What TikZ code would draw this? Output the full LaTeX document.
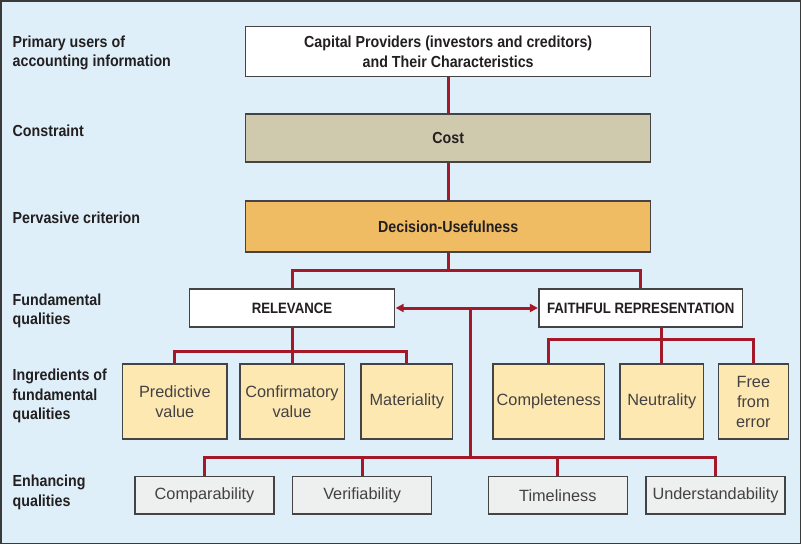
\documentclass[tikz,border=0pt]{standalone}
\usepackage{fontspec}
\setmainfont{Liberation Sans}
\newfontfamily\condf[FakeStretch=0.89]{Liberation Sans}
\newfontfamily\condu[FakeStretch=0.88]{Liberation Sans}
\usetikzlibrary{arrows.meta}
\definecolor{bgblue}{HTML}{DEEFF9}
\definecolor{framegray}{HTML}{3A3A3A}
\definecolor{boxgray}{HTML}{444444}
\definecolor{costc}{HTML}{CFC9AE}
\definecolor{decc}{HTML}{F0BC63}
\definecolor{ingc}{HTML}{FDE8B2}
\definecolor{enhc}{HTML}{EEEFEF}
\definecolor{linered}{HTML}{A3192A}
\definecolor{txt}{HTML}{231F20}
\tikzset{
  x=1pt, y=-1pt,
  boxnode/.style={draw=boxgray, line width=1.3pt, inner sep=0pt, align=center, text=txt},
  headbox/.style={boxnode, font=\condf\bfseries\fontsize{16}{20}\selectfont},
  capsbox/.style={boxnode, font=\condu\bfseries\fontsize{15}{19}\selectfont},
  plainbox/.style={boxnode, font=\fontsize{16.3}{20}\selectfont, text=txt!85},
  sidelabel/.style={anchor=west, align=left, inner sep=0pt, text=txt, font=\condf\bfseries\fontsize{16}{19.5}\selectfont},
  conn/.style={draw=linered, line width=3pt},
  arr/.style={conn, {Triangle[length=8pt,width=8pt]}-{Triangle[length=8pt,width=8pt]}, shorten <=0.5pt, shorten >=0.5pt},
}
\begin{document}
\begin{tikzpicture}
\useasboundingbox (0,0) rectangle (802,545);
\path[fill=bgblue, draw=framegray, line width=1.2pt] (1,1) rectangle (800.5,543.5);

% side labels
\node[sidelabel] (l1) at (12.5,53) {Primary users of\\accounting information};
\node[sidelabel] (l2) at (12.5,131) {Constraint};
\node[sidelabel] (l3) at (12.5,218) {Pervasive criterion};
\node[sidelabel] (l4) at (12.5,311) {Fundamental\\qualities};
\node[sidelabel] (l5) at (12.5,396) {Ingredients of\\fundamental\\qualities};
\node[sidelabel] (l6) at (12.5,492.5) {Enhancing\\qualities};

% main column
\node[headbox, fill=white, minimum width=405pt, minimum height=50pt] (top) at (448.2,51.7) {Capital Providers (investors and creditors)\\and Their Characteristics};
\node[headbox, fill=costc, minimum width=405pt, minimum height=48pt] (cost) at (448.2,138) {Cost};
\node[headbox, fill=decc, minimum width=405pt, minimum height=51pt] (dec) at (448.2,226.5) {Decision-Usefulness};

% fundamental
\node[capsbox, fill=white, minimum width=205pt, minimum height=38pt] (rel) at (292,308) {RELEVANCE};
\node[capsbox, fill=white, minimum width=203.3pt, minimum height=38pt] (fr) at (640.7,308) {FAITHFUL REPRESENTATION};

% ingredients
\node[plainbox, fill=ingc, minimum width=104.3pt, minimum height=75pt] (pred) at (174.8,401.5) {Predictive\\value};
\node[plainbox, fill=ingc, minimum width=104.3pt, minimum height=75pt] (conf) at (292,401.5) {Confirmatory\\value};
\node[plainbox, fill=ingc, minimum width=91.7pt, minimum height=75pt] (mat) at (406.8,401.5) {Materiality};
\node[plainbox, fill=ingc, minimum width=111.7pt, minimum height=75pt] (compl) at (548.8,401.5) {Completeness};
\node[plainbox, fill=ingc, minimum width=83.7pt, minimum height=75pt] (neu) at (661.8,401.5) {Neutrality};
\node[plainbox, fill=ingc, minimum width=70pt, minimum height=75pt] (free) at (753.3,401.5) {Free\\from\\error};

% enhancing
\node[plainbox, fill=enhc, minimum width=139pt, minimum height=37.3pt] (compa) at (204.5,495.3) {Comparability};
\node[plainbox, fill=enhc, minimum width=139pt, minimum height=37.3pt] (veri) at (362.2,495.3) {Verifiability};
\node[plainbox, fill=enhc, minimum width=139pt, minimum height=37.3pt] (time) at (557.8,495.3) {Timeliness};
\node[plainbox, fill=enhc, minimum width=139pt, minimum height=37.3pt] (und) at (715.5,495.3) {Understandability};

% coordinates
\coordinate (br) at (448.2,270);
\coordinate (relbar) at (0,351.7);
\coordinate (frbar) at (0,339.3);
\coordinate (hub) at (470,308);
\coordinate (enh) at (470,457.3);

% connectors
\draw[conn] (top) -- (cost);
\draw[conn] (cost) -- (dec);
\draw[conn] (dec) -- (br);
\draw[conn] (rel.north) |- (br) -| (fr.north);
\draw[arr] (rel.east) -- (fr.west);
\draw[conn] (hub) -- (enh);

\draw[conn] (conf.north) -- (conf.north |- rel.south);
\draw[conn] (pred.north) |- (pred.north |- relbar) -| (mat.north);

\draw[conn] (neu.north) -- (neu.north |- fr.south);
\draw[conn] (compl.north) |- (compl.north |- frbar) -| (free.north);

\draw[conn] (compa.north) |- (enh) -| (und.north);
\draw[conn] (veri.north) -- (veri.north |- enh);
\draw[conn] (time.north) -- (time.north |- enh);
\end{tikzpicture}
\end{document}
